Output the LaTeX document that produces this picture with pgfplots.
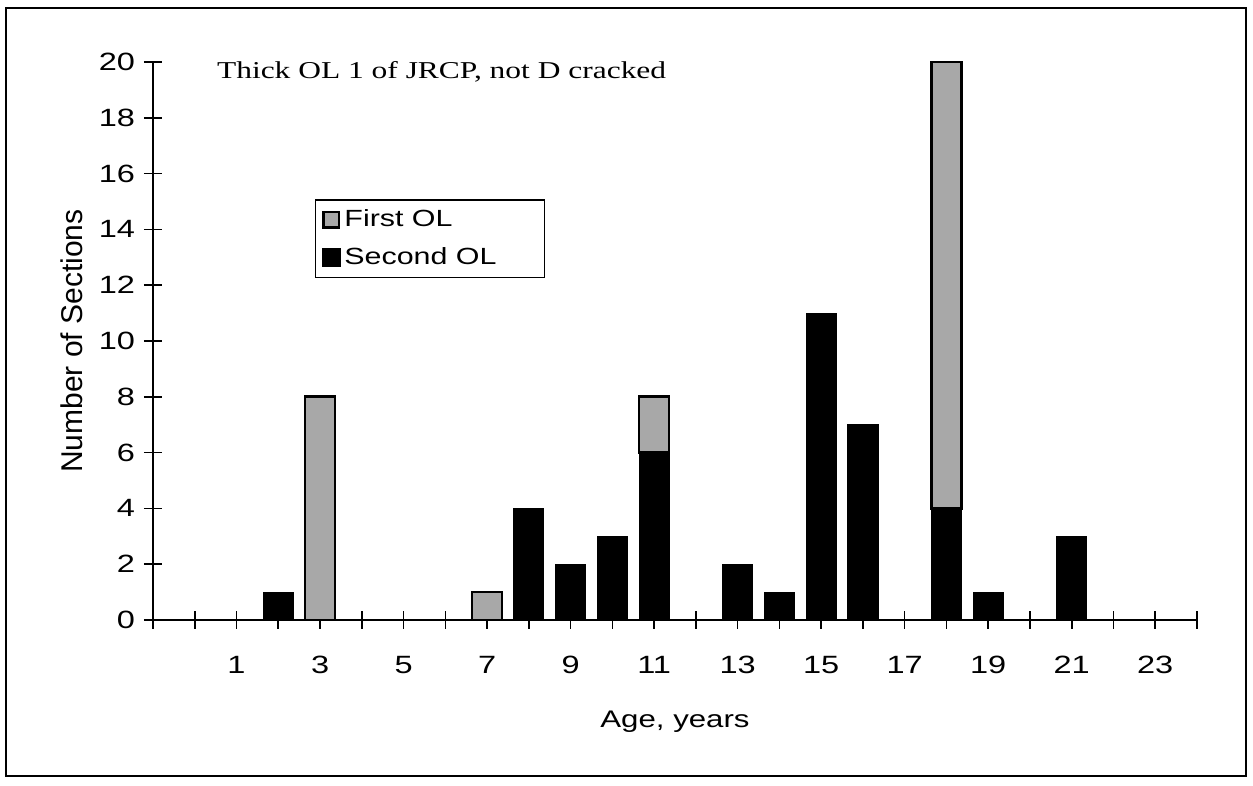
\documentclass[border=0pt]{standalone}
\usepackage{pgfplots}
\pgfplotsset{compat=1.18}
\usepackage{fontspec}
\setmainfont{Liberation Sans}
\newfontfamily\sansst[FakeStretch=1.3]{Liberation Sans}
\newfontfamily\serifst[FakeStretch=1.3]{Liberation Serif}
\definecolor{olgray}{gray}{0.66}
\begin{document}
\begin{tikzpicture}
\begin{axis}[
  scale only axis, width=522pt, height=279pt,
  ybar stacked, bar width=0.72,
  xmin=-1, xmax=24, ymin=0, ymax=20,
  axis lines=left,
  axis line style={-, line width=0.9pt},
  xtick={-1,0,...,24},
  xticklabels={,,1,,3,,5,,7,,9,,11,,13,,15,,17,,19,,21,,23,},
  ytick={0,2,...,20},
  tick align=center, major tick length=9pt,
  tick style={black, line width=0.8pt},
  /pgf/number format/assume math mode=true,
  tick label style={font=\sansst\fontsize{12.5}{14}\selectfont},
  xticklabel style={yshift=-10pt},
  yticklabel style={xshift=-1pt},
  xlabel={Age, years}, ylabel={Number of Sections},
  xlabel style={font=\sansst\fontsize{12}{14}\selectfont, at={(axis description cs:0.5,-0.1828)}, anchor=center},
  ylabel style={font=\fontsize{15}{18}\selectfont, at={(axis description cs:-0.0776,0.5)}, anchor=center},
  legend style={at={(axis description cs:0.155,0.7545)}, anchor=north west, draw=black, line width=0.8pt, font=\sansst\fontsize{11.7}{14}\selectfont, legend cell align=left, row sep=5pt, inner xsep=3pt, inner ysep=3pt},
  reverse legend,
  clip=false,
]
\addplot[fill=black, draw=black, line width=0.4pt,
  legend image code/.code={\draw[fill=black,draw=black,line width=0.4pt] (0pt,-4.5pt) rectangle (9pt,4.5pt);}]
  coordinates {(2,1) (3,0) (7,0) (8,4) (9,2) (10,3) (11,6) (13,2) (14,1) (15,11) (16,7) (18,4) (19,1) (21,3)};
\addlegendentry{\makebox[95pt][l]{Second OL}}
\addplot[fill=olgray, draw=black, line width=1.3pt,
  legend image code/.code={\draw[fill=olgray,draw=black,line width=1.3pt] (0.6pt,-3.9pt) rectangle (8.4pt,3.9pt);}]
  coordinates {(2,0) (3,8) (7,1) (8,0) (9,0) (10,0) (11,2) (13,0) (14,0) (15,0) (16,0) (18,16) (19,0) (21,0)};
\addlegendentry{\makebox[95pt][l]{First OL}}
\node[anchor=base west, font=\serifst\fontsize{12.1}{14}\selectfont] at (axis description cs:0.0546,0.9713) {Thick OL 1 of JRCP, not D cracked};
\end{axis}
\draw[line width=0.8pt] (-73.5pt,-78pt) rectangle (546.5pt,306pt);
\pgfresetboundingbox
\path (-76.5pt,-83pt) rectangle (550pt,310pt);
\end{tikzpicture}
\end{document}
